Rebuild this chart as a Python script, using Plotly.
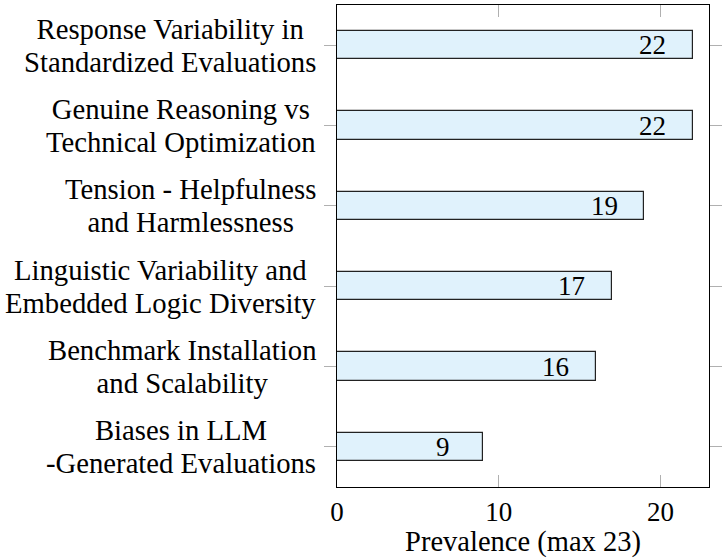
import plotly.graph_objects as go

categories = [
    "Response Variability in<br>Standardized Evaluations",
    "Genuine Reasoning vs<br>Technical Optimization",
    "Tension - Helpfulness<br>and Harmlessness",
    "Linguistic Variability and<br>Embedded Logic Diversity",
    "Benchmark Installation<br>and Scalability",
    "Biases in LLM<br>-Generated Evaluations",
]
values = [22, 22, 19, 17, 16, 9]
x_ticks = [0, 10, 20]
x_title = "Prevalence (max 23)"

SERIF = "Liberation Serif"

fig = go.Figure()
fig.add_trace(go.Bar(
    x=values, y=categories, orientation="h", width=0.35,
    marker=dict(color="#e0f2fc", line=dict(color="#222222", width=1.2)),
    hoverinfo="skip",
))

for c, v in zip(categories, values):
    fig.add_annotation(x=v, y=c, xref="x", yref="y", text=str(v), showarrow=False,
                       xanchor="center", yanchor="middle", xshift=-40,
                       font=dict(family=SERIF, size=27, color="black"))
    lines = c.split("<br>")
    label = "<br>".join('<span style="font-size:28.7px">%s</span>' % s for s in lines)
    fig.add_annotation(x=0, y=c, xref="paper", yref="y", text=label, showarrow=False,
                       xanchor="right", yanchor="middle", align="center", xshift=-19,
                       font=dict(family=SERIF, size=25.5, color="black"))

fig.update_layout(
    width=726, height=558,
    margin=dict(l=337, r=11, t=4, b=71),
    paper_bgcolor="white", plot_bgcolor="white",
    showlegend=False,
    bargap=0,
)
fig.update_xaxes(
    range=[0, 23], tickvals=x_ticks, ticktext=[str(t) for t in x_ticks],
    ticks="inside", ticklen=12, tickcolor="#b0b0b0", tickwidth=1,
    showline=True, linecolor="black", linewidth=1.2, mirror="ticks",
    showgrid=False, zeroline=False,
    tickfont=dict(family=SERIF, size=27, color="black"),
    title=dict(text=x_title, font=dict(family=SERIF, size=28.5, color="black"), standoff=8),
)
fig.update_yaxes(
    autorange="reversed", showticklabels=False,
    ticks="outside", ticklen=12, tickcolor="#b0b0b0", tickwidth=1,
    showline=True, linecolor="black", linewidth=1.2, mirror="ticks",
    showgrid=False, zeroline=False,
)

fig.write_html("out.html")
